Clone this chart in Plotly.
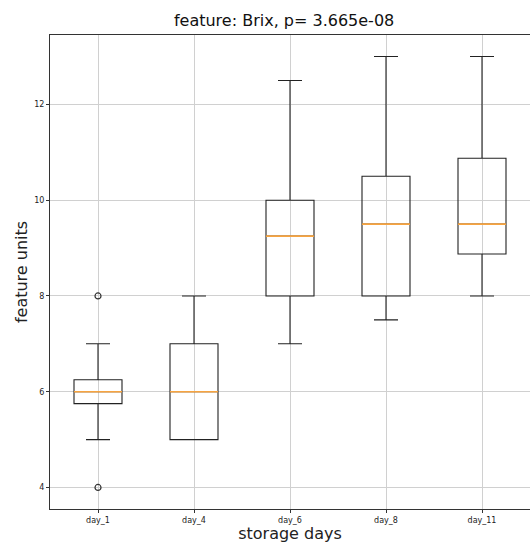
import plotly.graph_objects as go

categories = ["day_1", "day_4", "day_6", "day_8", "day_11"]
positions = [1, 2, 3, 4, 5]
q1 = [5.75, 5.0, 8.0, 8.0, 8.875]
median = [6.0, 6.0, 9.25, 9.5, 9.5]
q3 = [6.25, 7.0, 10.0, 10.5, 10.875]
lower_whisker = [5.0, 5.0, 7.0, 7.5, 8.0]
upper_whisker = [7.0, 8.0, 12.5, 13.0, 13.0]
outlier_x = [1, 1]
outlier_y = [4.0, 8.0]
y_ticks = [4, 6, 8, 10, 12]

font = "DejaVu Sans"

fig = go.Figure()
fig.add_trace(go.Box(
    x=positions, q1=q1, median=median, q3=q3,
    lowerfence=lower_whisker, upperfence=upper_whisker,
    width=0.5, whiskerwidth=0.5,
    line=dict(color="#222222", width=1.1),
    fillcolor="rgba(0,0,0,0)", boxpoints=False, showlegend=False,
    hoverinfo="skip",
))
# orange median lines
fig.add_trace(go.Box(
    x=positions, q1=median, median=median, q3=median,
    lowerfence=median, upperfence=median,
    width=0.5, whiskerwidth=0,
    line=dict(color="#f7a440", width=1.6),
    fillcolor="rgba(0,0,0,0)", boxpoints=False, showlegend=False,
    hoverinfo="skip",
))
fig.add_trace(go.Scatter(
    x=outlier_x, y=outlier_y, mode="markers",
    marker=dict(symbol="circle-open", size=6, color="#333333", line=dict(width=1.2)),
    showlegend=False, hoverinfo="skip",
))

fig.update_layout(
    width=530, height=543,
    margin=dict(l=50, r=0, t=35, b=34),
    paper_bgcolor="white", plot_bgcolor="white",
    boxmode="overlay",
    title=dict(text="feature: Brix, p= 3.665e-08", x=0.536, xanchor="center",
               y=1 - 20 / 543, yanchor="middle",
               font=dict(family=font, size=16, color="#111111")),
    font=dict(family=font, color="#222222"),
)
fig.update_xaxes(
    range=[0.5, 5.5], tickvals=positions, ticktext=categories,
    tickfont=dict(size=8, family=font), ticks="outside", ticklen=3, tickcolor="#333333",
    showgrid=True, gridcolor="#d0d0d0", gridwidth=1,
    showline=True, linecolor="#333333", linewidth=1, mirror=True,
    zeroline=False,
    title=dict(text="storage days", font=dict(size=16, family=font), standoff=0),
)
fig.update_yaxes(
    range=[3.55, 13.45], tickvals=y_ticks,
    tickfont=dict(size=8, family=font), ticks="outside", ticklen=3, tickcolor="#333333",
    showgrid=True, gridcolor="#d0d0d0", gridwidth=1,
    showline=True, linecolor="#333333", linewidth=1, mirror=True,
    zeroline=False,
    title=dict(text="feature units", font=dict(size=16, family=font), standoff=2),
)

fig.write_html("out.html")
